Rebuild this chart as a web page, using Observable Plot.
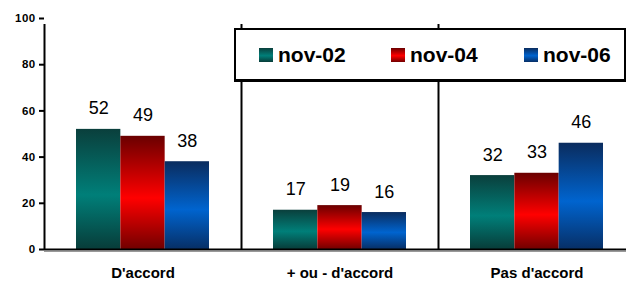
<!DOCTYPE html>
<html>
<head>
<meta charset="utf-8">
<script src="https://cdn.jsdelivr.net/npm/d3@7"></script>
<script src="https://cdn.jsdelivr.net/npm/@observablehq/plot@0.6"></script>
<style>
  html, body { margin: 0; padding: 0; background: #fff; }
  #wrap { position: relative; width: 626px; height: 281px; overflow: hidden; font-family: "Liberation Sans", Arial, sans-serif; }
  #legend { position: absolute; left: 234px; top: 28px; width: 388px; height: 49px; border: 2px solid #000; border-bottom-width: 3px; border-right-width: 2px; background: #fff; }
  .item { position: absolute; top: 0; height: 49px; display: flex; align-items: center; font-weight: bold; font-size: 21px; color: #000; }
  .sw { width: 14px; height: 14px; margin-right: 5px; }
  #wrap svg g[aria-label^="y-axis"] text { font-size: 11.5px !important; font-weight: bold !important; letter-spacing: 0.4px; fill: #000 !important; }
  #wrap svg g[aria-label^="y-axis"] line, #wrap svg g[aria-label^="y-axis"] path { stroke: #000 !important; stroke-width: 2px !important; }
  #wrap svg g[aria-label^="x-axis"] text { font-size: 15px !important; font-weight: bold !important; fill: #000 !important; }
</style>
</head>
<body>
<div id="wrap"></div>
<script>
const categories = ["D'accord", "+ ou - d'accord", "Pas d'accord"];
const series = ["nov-02", "nov-04", "nov-06"];
const nov02 = [52, 17, 32];
const nov04 = [49, 19, 33];
const nov06 = [38, 16, 46];
const yTicks = [0, 20, 40, 60, 80, 100];

const values = [nov02, nov04, nov06];
const rows = categories.flatMap((c, j) => series.map((s, i) => ({cat: c, series: s, value: values[i][j]})));

// gradient definitions: [dark top, bright, dark bottom]
const gradients = [
  ["#0a3f3c", "#007f79", "#083c39"],
  ["#6a0000", "#ff0000", "#720000"],
  ["#0a2c5e", "#0064cf", "#072f66"]
];

const x0 = 44, x1 = 635;
const bw = (x1 - x0) / categories.length;   // band width
const barW = 44.33, outer = (bw - barW * 3) / 2;

const marks = [];
series.forEach((s, i) => {
  const sub = rows.filter(d => d.series === s);
  marks.push(Plot.barY(sub, {
    x: "cat", y: "value", fill: "series",
    insetLeft: outer + barW * i,
    insetRight: bw - outer - barW * (i + 1)
  }));
  marks.push(Plot.text(sub, {
    x: "cat", y: "value", text: d => String(d.value),
    dx: barW * (i - 1), dy: -15, lineAnchor: "bottom",
    fontSize: 18, fill: "#000"
  }));
});

const plot = Plot.plot({
  width: 626,
  height: 281,
  marginLeft: 44,
  marginRight: 0,
  marginTop: 18,
  marginBottom: 32,
  style: { fontFamily: "Liberation Sans, Arial, sans-serif", background: "#fff", color: "#000" },
  x: { domain: categories, range: [x0, x1], padding: 0, tickSize: 0, tickPadding: 18, label: null },
  y: { domain: [0, 100], ticks: yTicks, tickSize: 5, tickPadding: 4, label: null },
  color: { domain: series, range: series.map((s, i) => `url(#grad${i})`) },
  marks: [
    ...marks,
    Plot.ruleY([0], { stroke: "#999", strokeWidth: 1, dy: 2 }),
    Plot.ruleY([0], { stroke: "#000", strokeWidth: 2 }),
    Plot.ruleX(categories, { x: d => d, dx: -bw / 2, y1: 0, y2: 100, insetBottom: -6, stroke: "#000", strokeWidth: 2 })
  ]
});

const svg = d3.select(plot);
const defs = svg.insert("defs", ":first-child");
gradients.forEach((g, i) => {
  const lg = defs.append("linearGradient").attr("id", `grad${i}`).attr("x1", 0).attr("y1", 0).attr("x2", 0).attr("y2", 1);
  lg.append("stop").attr("offset", "0%").attr("stop-color", g[0]);
  lg.append("stop").attr("offset", "55%").attr("stop-color", g[1]);
  lg.append("stop").attr("offset", "100%").attr("stop-color", g[2]);
});

const wrap = document.getElementById("wrap");
wrap.appendChild(plot);

const legend = document.createElement("div");
legend.id = "legend";
const itemX = [23, 155, 288];
series.forEach((s, i) => {
  const it = document.createElement("div");
  it.className = "item";
  it.style.left = itemX[i] + "px";
  const sw = document.createElement("span");
  sw.className = "sw";
  const g = gradients[i];
  sw.style.background = `linear-gradient(to bottom, ${g[0]}, ${g[1]} 55%, ${g[2]})`;
  const t = document.createElement("span");
  t.textContent = s;
  it.appendChild(sw);
  it.appendChild(t);
  legend.appendChild(it);
});
wrap.appendChild(legend);
</script>
</body>
</html>
